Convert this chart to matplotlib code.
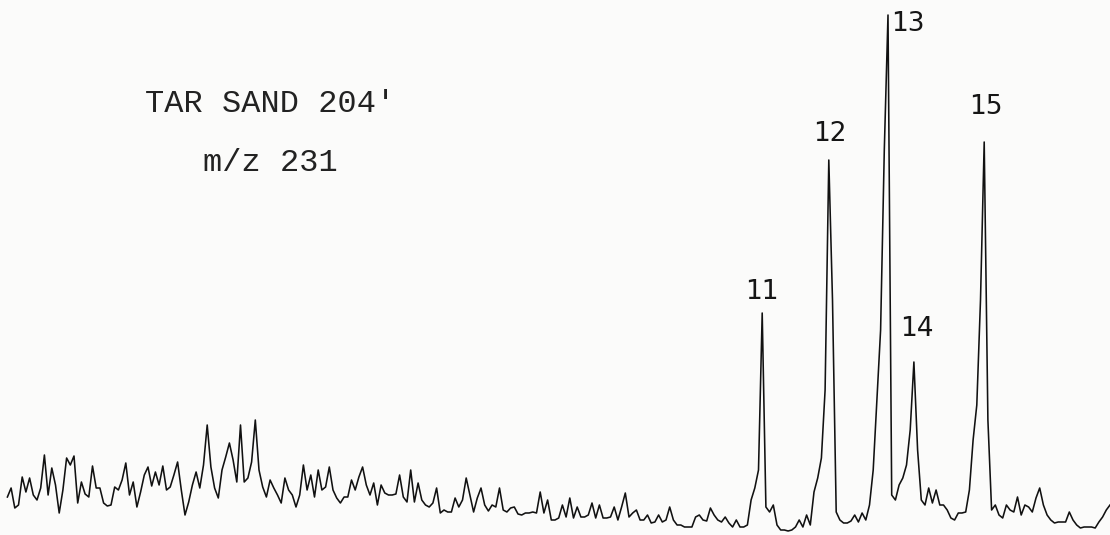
import numpy as np
import matplotlib
matplotlib.use("Agg")
from matplotlib import pyplot as plt

# m/z 231 mass chromatogram, tar sand sample 204'
sample = "TAR SAND 204'"
ion = "m/z 231"

# scan numbers 2..300 and abundance (arbitrary counts)
scans = np.arange(2, 301)
abundance = [
    38, 47, 27, 30, 58, 43, 57, 40, 35, 47, 80, 40, 67, 50, 22, 45, 77, 70, 79, 32,
    53, 41, 38, 69, 47, 47, 32, 29, 30, 48, 45, 55, 72, 40, 53, 28, 43, 60, 68, 49,
    63, 50, 69, 45, 48, 60, 73, 45, 20, 33, 50, 63, 47, 70, 110, 68, 47, 37, 65, 78,
    92, 75, 53, 110, 53, 57, 73, 115, 65, 48, 38, 55, 47, 40, 32, 57, 45, 40, 28, 40,
    70, 45, 60, 38, 65, 45, 48, 68, 45, 37, 32, 38, 38, 55, 45, 58, 68, 50, 40, 52,
    30, 50, 42, 40, 40, 41, 60, 38, 33, 65, 33, 52, 35, 30, 28, 32, 47, 22, 25, 23,
    23, 37, 28, 35, 57, 40, 23, 37, 47, 30, 24, 30, 28, 47, 25, 23, 27, 28, 21, 20,
    22, 22, 23, 22, 43, 22, 35, 15, 15, 17, 30, 18, 37, 17, 28, 18, 18, 20, 32, 17,
    30, 17, 17, 18, 28, 15, 28, 42, 18, 22, 25, 15, 15, 20, 12, 13, 20, 13, 15, 28,
    15, 10, 10, 8, 8, 8, 18, 20, 15, 14, 27, 20, 15, 13, 18, 12, 8, 15, 8, 8,
    10, 35, 47, 65, 222, 28, 23, 30, 10, 5, 5, 4, 5, 8, 15, 8, 20, 10, 43, 57,
    77, 145, 375, 235, 23, 15, 12, 12, 14, 20, 13, 22, 15, 30, 65, 135, 205, 385, 520, 40,
    35, 50, 57, 70, 105, 173, 85, 35, 30, 47, 32, 45, 30, 30, 25, 17, 15, 22, 22, 23,
    45, 95, 130, 235, 393, 115, 25, 30, 20, 17, 30, 25, 23, 38, 20, 30, 28, 23, 37, 47,
    30, 20, 15, 12, 13, 13, 13, 23, 15, 10, 7, 8, 8, 8, 7, 13, 18, 25, 30,
]

# numbered peaks: label, scan of apex, label offset in pixels
peak_labels = ["11", "12", "13", "14", "15"]
peak_scans = [206, 224, 240, 247, 266]
label_offsets = [(0, 21), (1, 26), (20, -9), (3, 33), (2, 35)]

fig = plt.figure(figsize=(11.1, 5.35), dpi=100, facecolor="#fbfbfa")
ax = fig.add_axes([0, 0, 1, 1])
ax.set_facecolor("#fbfbfa")

ax.plot(scans, abundance, color="#111111", lw=1.15)

for lab, s, off in zip(peak_labels, peak_scans, label_offsets):
    ax.annotate(lab, (s, abundance[s - scans[0]]), xytext=off,
                textcoords="offset pixels", ha="center", va="center",
                fontsize=19, family="DejaVu Sans", color="#151515")

ax.text(0.1306, 0.806, sample, transform=ax.transAxes, ha="left", va="center",
        fontsize=23, family="Liberation Mono", color="#222222")
ax.text(0.183, 0.695, ion, transform=ax.transAxes, ha="left", va="center",
        fontsize=23, family="Liberation Mono", color="#222222")

ax.set_xlim(0, 300)
ax.set_ylim(0, 535)
ax.axis("off")

fig.savefig("out.png", dpi=100, facecolor=fig.get_facecolor())
